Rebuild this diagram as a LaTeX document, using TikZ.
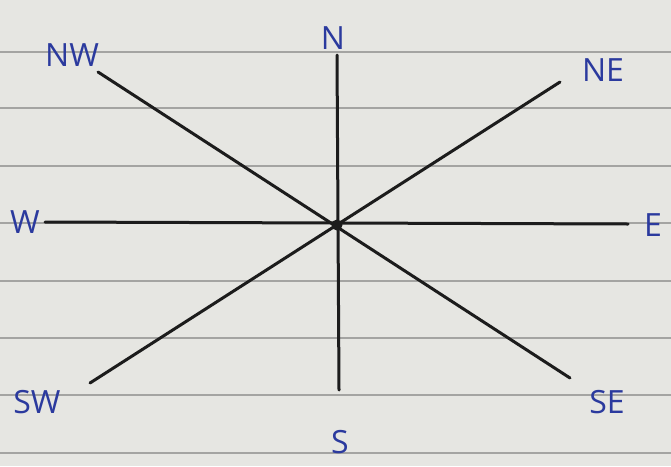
\documentclass[tikz,border=0pt]{standalone}
\usepackage{fontspec}
\setmainfont{Open Sans}
\definecolor{paper}{HTML}{E6E6E2}
\definecolor{rule}{HTML}{A4A4A2}
\definecolor{ink}{HTML}{2B3A9E}
\definecolor{pen}{HTML}{1C1C1C}
\begin{document}
\begin{tikzpicture}[x=1pt,y=-1pt,
  ruled/.style={draw=rule,line width=1.2pt},
  spoke/.style={draw=pen,line width=3pt,line cap=round},
  lbl/.style={text=ink,font=\fontsize{32}{32}\selectfont,inner sep=0pt}]
\fill[paper] (0,0) rectangle (671,466);
\useasboundingbox (0,0) rectangle (671,466);
\foreach \y in {52,108,166,223,281,338,395,453}
  \draw[ruled] (0,\y) -- (671,\y);
% endpoints
\coordinate (c) at (337,225);
\coordinate (n) at (337,55);
\coordinate (s) at (339,390);
\coordinate (w) at (45,222);
\coordinate (e) at (628,224);
\coordinate (nw) at (98,72);
\coordinate (se) at (570,378);
\coordinate (ne) at (560,82);
\coordinate (sw) at (90,383);
\draw[spoke] (n) -- (s);
\draw[spoke] (w) -- (e);
\draw[spoke] (nw) -- (se);
\draw[spoke] (ne) -- (sw);
\fill[pen] (c) circle (5.5);
% labels
\node[lbl] (ln) at (333,38) {N};
\node[lbl] (lnw) at (72,55) {NW};
\node[lbl] (lne) at (603,70) {NE};
\node[lbl] (lw) at (25,222) {W};
\node[lbl] (le) at (653,225) {E};
\node[lbl] (lsw) at (37,402) {SW};
\node[lbl] (ls) at (340,442) {S};
\node[lbl] (lse) at (607,402) {SE};
\end{tikzpicture}
\end{document}
